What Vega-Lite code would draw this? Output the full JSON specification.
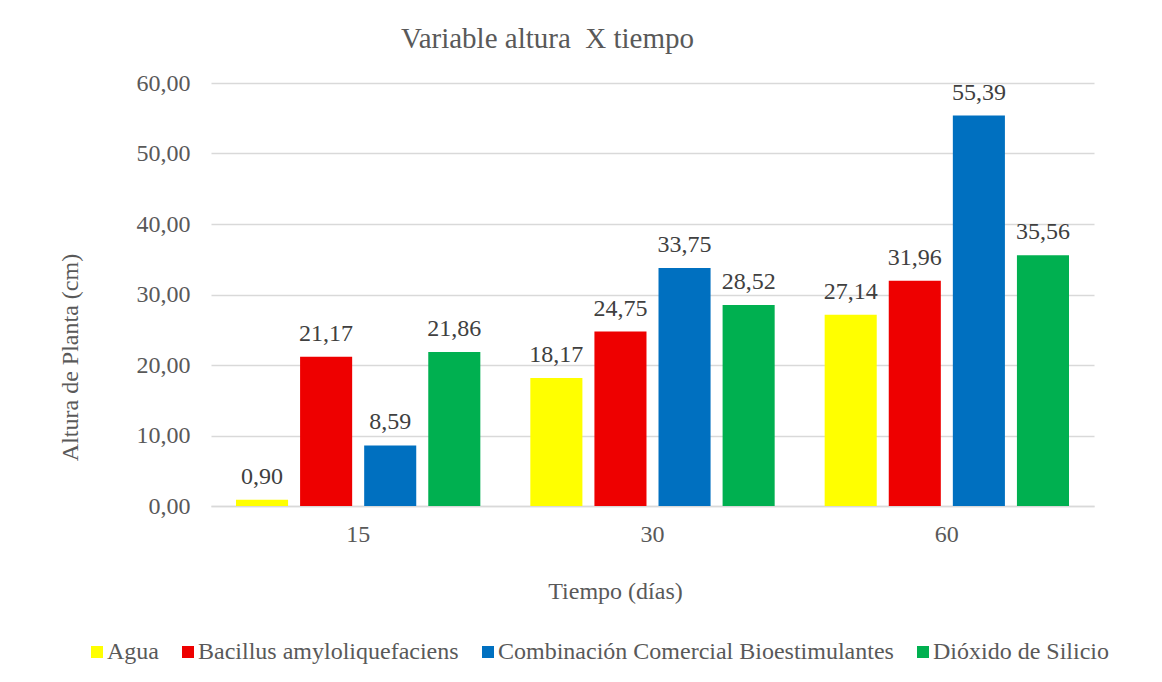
{
  "$schema": "https://vega.github.io/schema/vega-lite/v6.json",
  "width": 883,
  "height": 423,
  "autosize": "none",
  "padding": {"left": 211, "top": 83, "right": 68, "bottom": 176},
  "background": "white",
  "title": {
    "text": "Variable altura\u00a0 X tiempo",
    "font": "'Liberation Serif', 'Times New Roman', serif",
    "fontSize": 29,
    "fontWeight": "normal",
    "color": "#595959",
    "anchor": "middle",
    "dx": -105,
    "offset": 17
  },
  "config": {
    "locale": {"number": {"decimal": ",", "thousands": ".", "grouping": [3], "currency": ["", "€"]}},
    "view": {"stroke": null},
    "font": "'Liberation Serif', 'Times New Roman', serif"
  },
  "data": {
    "values": [
      {"tiempo": "15", "tratamiento": "Agua", "altura": 0.90},
      {"tiempo": "15", "tratamiento": "Bacillus amyloliquefaciens", "altura": 21.17},
      {"tiempo": "15", "tratamiento": "Combinación Comercial Bioestimulantes", "altura": 8.59},
      {"tiempo": "15", "tratamiento": "Dióxido de Silicio", "altura": 21.86},
      {"tiempo": "30", "tratamiento": "Agua", "altura": 18.17},
      {"tiempo": "30", "tratamiento": "Bacillus amyloliquefaciens", "altura": 24.75},
      {"tiempo": "30", "tratamiento": "Combinación Comercial Bioestimulantes", "altura": 33.75},
      {"tiempo": "30", "tratamiento": "Dióxido de Silicio", "altura": 28.52},
      {"tiempo": "60", "tratamiento": "Agua", "altura": 27.14},
      {"tiempo": "60", "tratamiento": "Bacillus amyloliquefaciens", "altura": 31.96},
      {"tiempo": "60", "tratamiento": "Combinación Comercial Bioestimulantes", "altura": 55.39},
      {"tiempo": "60", "tratamiento": "Dióxido de Silicio", "altura": 35.56}
    ]
  },
  "encoding": {
    "x": {
      "field": "tiempo",
      "type": "nominal",
      "sort": ["15", "30", "60"],
      "scale": {"paddingInner": 0, "paddingOuter": 0},
      "axis": {
        "title": "Tiempo (días)",
        "titleFont": "'Liberation Serif', 'Times New Roman', serif",
        "titleFontSize": 24,
        "titleFontWeight": "normal",
        "titleColor": "#595959",
        "titleX": 404,
        "titleY": 85,
        "titleBaseline": "middle",
        "labelAngle": 0,
        "labelFont": "'Liberation Serif', 'Times New Roman', serif",
        "labelFontSize": 24,
        "labelColor": "#595959",
        "labelPadding": 16,
        "ticks": false,
        "domainColor": "#d9d9d9",
        "domainWidth": 1.5
      }
    },
    "xOffset": {
      "field": "tratamiento",
      "type": "nominal",
      "scale": {"paddingInner": 0.1875, "paddingOuter": 0.39}
    },
    "y": {
      "field": "altura",
      "type": "quantitative",
      "scale": {"domain": [0, 60], "nice": false},
      "axis": {
        "title": "Altura de Planta (cm)",
        "titleFont": "'Liberation Serif', 'Times New Roman', serif",
        "titleFontSize": 24,
        "titleFontWeight": "normal",
        "titleColor": "#595959",
        "titleX": -141,
        "titleY": 274,
        "titleBaseline": "middle",
        "titleAlign": "center",
        "values": [0, 10, 20, 30, 40, 50, 60],
        "format": ".2f",
        "labelFont": "'Liberation Serif', 'Times New Roman', serif",
        "labelFontSize": 24,
        "labelColor": "#595959",
        "labelPadding": 21,
        "ticks": false,
        "domain": false,
        "gridColor": "#d9d9d9",
        "gridWidth": 1.5
      }
    }
  },
  "layer": [
    {
      "mark": {"type": "bar"},
      "encoding": {
        "color": {
          "field": "tratamiento",
          "type": "nominal",
          "scale": {
            "domain": ["Agua", "Bacillus amyloliquefaciens", "Combinación Comercial Bioestimulantes", "Dióxido de Silicio"],
            "range": ["#FFFF00", "#EE0000", "#0070C0", "#00B050"]
          },
          "legend": {
            "title": null,
            "orient": "none",
            "direction": "horizontal",
            "legendX": -126,
            "legendY": 557,
            "symbolType": "square",
            "symbolSize": 144,
            "symbolStrokeWidth": 0,
            "labelFont": "'Liberation Serif', 'Times New Roman', serif",
            "labelFontSize": 24,
            "labelColor": "#595959",
            "labelLimit": 0,
            "labelOffset": -2,
            "columnPadding": 17
          }
        }
      }
    },
    {
      "mark": {"type": "text", "baseline": "alphabetic", "dy": -16, "font": "'Liberation Serif', 'Times New Roman', serif", "fontSize": 24, "color": "#404040"},
      "encoding": {
        "text": {"field": "altura", "type": "quantitative", "format": ".2f"}
      }
    }
  ]
}
